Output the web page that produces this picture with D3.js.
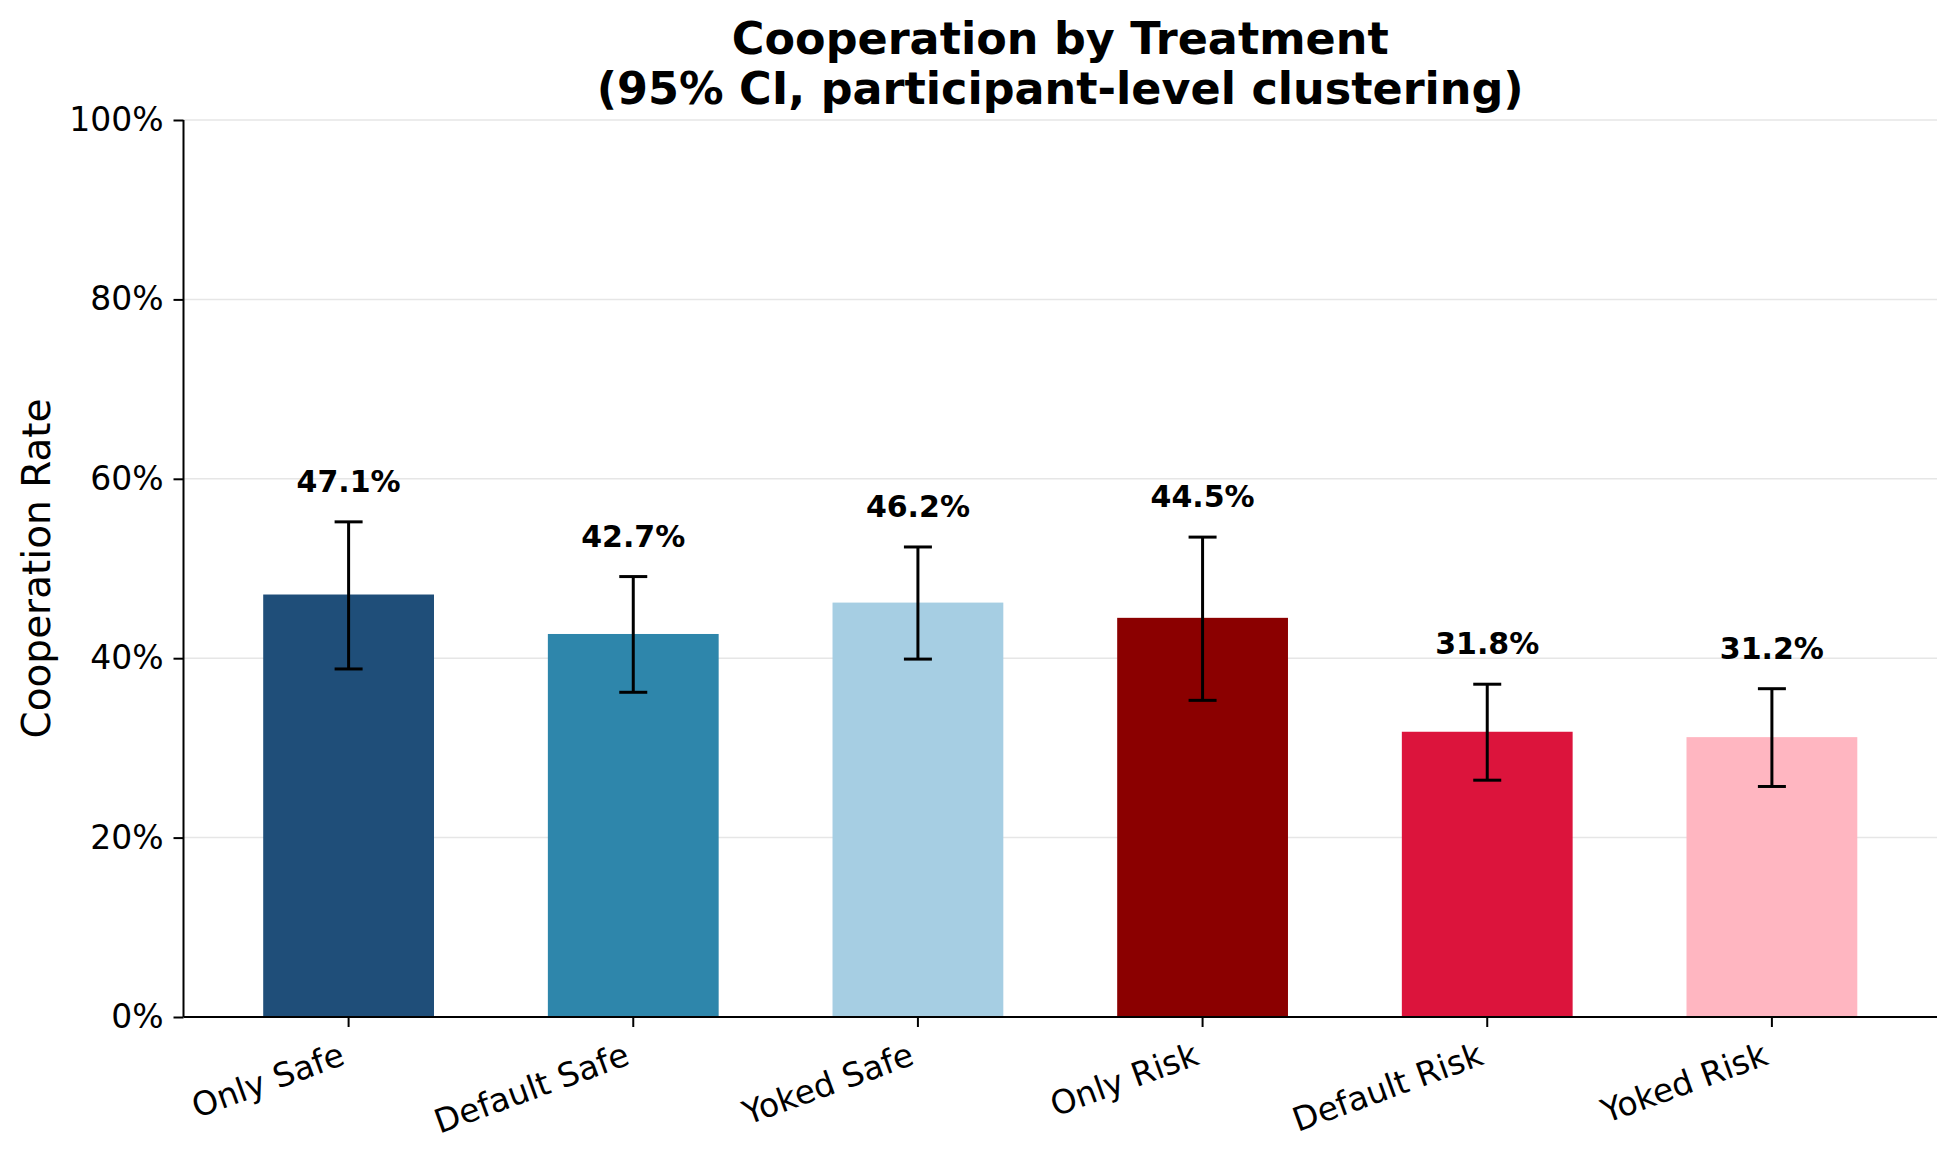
<!DOCTYPE html>
<html><head><meta charset="utf-8">
<script src="https://cdn.jsdelivr.net/npm/d3@7"></script>
<style>body{margin:0;background:#fff}svg{display:block}text{font-family:"DejaVu Sans",sans-serif}</style>
</head><body>
<script>
const categories = ["Only Safe","Default Safe","Yoked Safe","Only Risk","Default Risk","Yoked Risk"];
const rates = [0.471,0.427,0.462,0.445,0.318,0.312];
const ciLow = [0.388,0.362,0.399,0.353,0.264,0.257];
const ciHigh = [0.552,0.491,0.524,0.535,0.371,0.366];
const colors = ["#1f4e79","#2e86ab","#a6cee3","#8b0000","#dc143c","#ffb6c1"];
const yTicks = [0,0.2,0.4,0.6,0.8,1.0];

const W=1957,H=1158;
const L=183.5,R=1937,T=120,B=1017;
const svg=d3.select("body").append("svg").attr("width",W).attr("height",H);
const x=d3.scaleLinear().domain([-0.58,categories.length-1+0.58]).range([L,R]);
const y=d3.scaleLinear().domain([0,1]).range([B,T]);
const bw=x(0.6)-x(0);

// grid
svg.append("g").selectAll("line").data(yTicks).join("line")
 .attr("x1",L).attr("x2",R).attr("y1",d=>y(d)).attr("y2",d=>y(d))
 .attr("stroke","#e6e6e6").attr("stroke-width",1.5);

// bars
svg.append("g").selectAll("rect").data(categories).join("rect")
 .attr("x",(d,i)=>x(i)-bw/2).attr("width",bw)
 .attr("y",(d,i)=>y(rates[i])).attr("height",(d,i)=>y(0)-y(rates[i]))
 .attr("fill",(d,i)=>colors[i]);

// error bars
const eg=svg.append("g").attr("stroke","#000").attr("stroke-width",3);
categories.forEach((c,i)=>{
  eg.append("line").attr("x1",x(i)).attr("x2",x(i)).attr("y1",y(ciLow[i])).attr("y2",y(ciHigh[i]));
  [ciLow[i],ciHigh[i]].forEach(v=>eg.append("line").attr("x1",x(i)-14).attr("x2",x(i)+14).attr("y1",y(v)).attr("y2",y(v)));
});

// value labels
svg.append("g").selectAll("text").data(categories).join("text")
 .attr("x",(d,i)=>x(i)).attr("y",(d,i)=>y(ciHigh[i]+0.03)-3)
 .attr("text-anchor","middle").attr("font-size",30).attr("font-weight","bold")
 .text((d,i)=>(rates[i]*100).toFixed(1)+"%");

// axes
const yAxis=d3.axisLeft(y).tickValues(yTicks).tickFormat(d=>Math.round(d*100)+"%").tickSize(10).tickPadding(10);
const yg=svg.append("g").attr("transform",`translate(${L},0)`).call(yAxis);
yg.select(".domain").attr("stroke-width",2).attr("d",`M0,${B}V${T}`);
yg.selectAll(".tick line").attr("stroke-width",2);
yg.selectAll("text").attr("font-size",33).attr("font-family","DejaVu Sans").attr("fill","#000");

const xg=svg.append("g").attr("transform",`translate(0,${B})`);
xg.append("line").attr("x1",L).attr("x2",R).attr("y1",0).attr("y2",0).attr("stroke","#000").attr("stroke-width",2);
xg.selectAll(".tk").data(categories).join("line").attr("class","tk")
 .attr("x1",(d,i)=>x(i)).attr("x2",(d,i)=>x(i)).attr("y1",0).attr("y2",10).attr("stroke","#000").attr("stroke-width",2);
xg.selectAll(".tl").data(categories).join("text").attr("class","tl")
 .attr("transform",(d,i)=>`translate(${x(i)-11},${22}) rotate(-20)`)
 .attr("text-anchor","end").attr("dy","0.8em").attr("font-size",33).text(d=>d);

// y label
svg.append("text").attr("transform",`translate(50,${(T+B)/2}) rotate(-90)`)
 .attr("text-anchor","middle").attr("font-size",39).text("Cooperation Rate");

// title
const tt=svg.append("text").attr("text-anchor","middle").attr("font-size",44.5).attr("font-weight","bold");
tt.append("tspan").attr("x",(L+R)/2).attr("y",54).text("Cooperation by Treatment");
tt.append("tspan").attr("x",(L+R)/2).attr("y",104).text("(95% CI, participant-level clustering)");
</script>
</body></html>
